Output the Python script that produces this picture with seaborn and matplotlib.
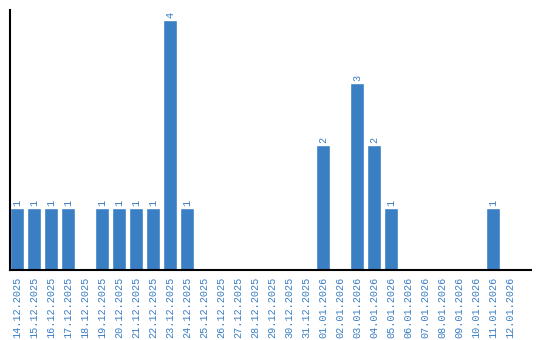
import matplotlib
matplotlib.use("Agg")
import matplotlib.pyplot as plt
import seaborn as sns
import pandas as pd

dates = ["14.12.2025", "15.12.2025", "16.12.2025", "17.12.2025", "18.12.2025",
         "19.12.2025", "20.12.2025", "21.12.2025", "22.12.2025", "23.12.2025",
         "24.12.2025", "25.12.2025", "26.12.2025", "27.12.2025", "28.12.2025",
         "29.12.2025", "30.12.2025", "31.12.2025", "01.01.2026", "02.01.2026",
         "03.01.2026", "04.01.2026", "05.01.2026", "06.01.2026", "07.01.2026",
         "08.01.2026", "09.01.2026", "10.01.2026", "11.01.2026", "12.01.2026"]
counts = [1, 1, 1, 1, 0, 1, 1, 1, 1, 4, 1, 0, 0, 0, 0, 0, 0, 0, 2, 0,
          3, 2, 1, 0, 0, 0, 0, 0, 1, 0]

df = pd.DataFrame({"date": dates, "count": counts})

sns.set_style("white")
blue = "#3a7ec3"
font = ["Liberation Mono", "DejaVu Sans Mono"]

fig = plt.figure(figsize=(5.4, 3.4), dpi=100)
ax = fig.add_axes([10 / 540, 70 / 340, 521 / 540, 260 / 340])

sns.barplot(data=df, x="date", y="count", color=blue, saturation=1,
            width=14 / 17, ax=ax)

for p, v in zip(ax.patches, counts):
    if v > 0:
        ax.text(p.get_x() + p.get_width() / 2, v + 0.03, str(v),
                rotation=90, ha="center", va="bottom", color=blue,
                fontsize=7.3, family=font)

ax.set_xlim(-7 / 17, 29 + 21 / 17)
ax.set_ylim(0, 4.16)
ax.set_xlabel("")
ax.set_ylabel("")
ax.set_yticks([])
ax.set_xticks(range(len(dates)))
ax.set_xticklabels(dates, rotation=90, color=blue, fontsize=7.3, family=font)
ax.tick_params(axis="x", length=0, pad=5)

for side in ["top", "right"]:
    ax.spines[side].set_visible(False)
for side in ["left", "bottom"]:
    ax.spines[side].set_color("black")
    ax.spines[side].set_linewidth(1.5)

fig.savefig("out.png", dpi=100)
